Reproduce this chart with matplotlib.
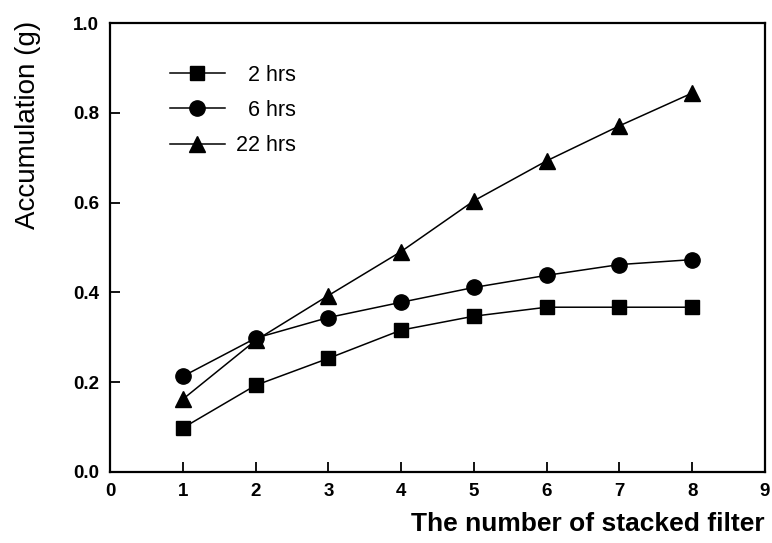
import numpy as np
import matplotlib
matplotlib.use("Agg")
import matplotlib.pyplot as plt

plt.rcParams["font.family"] = ["Liberation Sans", "DejaVu Sans"]

# number of stacked filters
filters = [1, 2, 3, 4, 5, 6, 7, 8]

# accumulation (g) for each sampling time
acc_2h = [0.098, 0.193, 0.253, 0.316, 0.347, 0.367, 0.367, 0.367]
acc_6h = [0.213, 0.298, 0.344, 0.378, 0.411, 0.438, 0.462, 0.473]
acc_22h = [0.162, 0.293, 0.393, 0.491, 0.604, 0.693, 0.771, 0.844]

labels = ["  2 hrs", "  6 hrs", "22 hrs"]

fig = plt.figure(figsize=(7.72, 5.43), dpi=100)
ax = fig.add_axes([110 / 772, (543 - 472) / 543, (765 - 110) / 772, (472 - 23) / 543])

ax.plot(filters, acc_2h, color="black", lw=1.1, marker="s", ms=10.5, label=labels[0])
ax.plot(filters, acc_6h, color="black", lw=1.1, marker="o", ms=11, label=labels[1])
ax.plot(filters, acc_22h, color="black", lw=1.1, marker="^", ms=12, label=labels[2])

ax.set_xlim(0, 9)
ax.set_ylim(0, 1.0)
ax.set_xticks(range(0, 10))
ax.set_yticks(np.arange(0, 1.01, 0.2))
ax.set_yticklabels(["%.1f" % v for v in np.arange(0, 1.01, 0.2)])

for s in ax.spines.values():
    s.set_linewidth(1.6)

ax.tick_params(direction="in", length=7, width=1.3, labelsize=13.5, pad=8)
for t in ax.get_xticklabels() + ax.get_yticklabels():
    t.set_fontweight("bold")

ax.set_ylabel("Accumulation (g)", fontsize=20)
ax.yaxis.set_label_coords(-0.105, 0.773)
ax.set_xlabel("The number of stacked filter", fontsize=19, fontweight="bold")
ax.xaxis.set_label_coords(1.0, -0.088)
ax.xaxis.label.set_horizontalalignment("right")

ax.legend(loc="upper left", bbox_to_anchor=(0.0916, 0.907), frameon=False,
          fontsize=15.5, handlelength=2.55, labelspacing=0.66, handletextpad=0.5,
          borderpad=0, borderaxespad=0)

fig.savefig("out.png", dpi=100)
